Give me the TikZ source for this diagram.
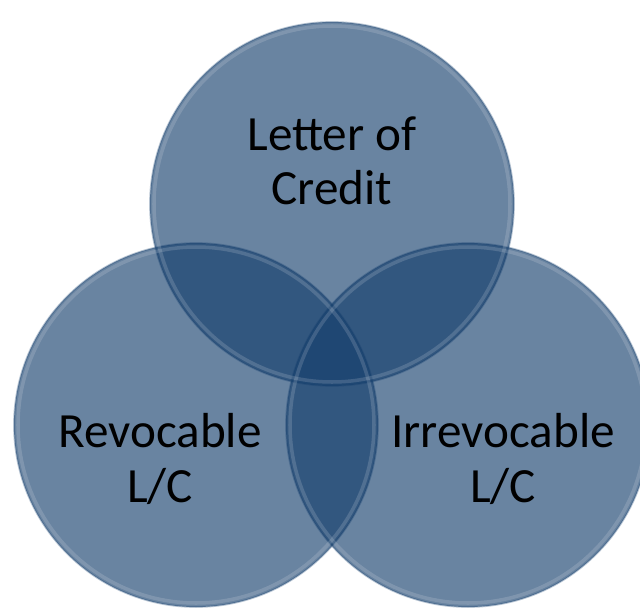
\documentclass[tikz,border=0pt]{standalone}
\usepackage{fontspec}
\setmainfont{Carlito}
\usepackage{tikz}
\usetikzlibrary{calc,positioning}

\definecolor{vennblue}{RGB}{20,62,108}
\tikzset{
  venn/.style={fill=vennblue,fill opacity=0.64,draw=vennblue,draw opacity=0.3,line width=1pt},
  rim/.style={draw=white,draw opacity=0.15,line width=2pt},
  vennlabel/.style={align=center,text=black,font=\fontsize{28}{31}\selectfont}
}

\begin{document}
\begin{tikzpicture}[x=0.02cm,y=-0.02cm]
			\useasboundingbox (0,0) rectangle (640,609);
			\clip (0,0) rectangle (640,609);
			\begin{scope}
				\draw[venn] (332,204) circle (182);
				\draw[venn] (196,425) circle (182);
				\draw[venn] (468,425) circle (182);
				% faint rims
				\draw[rim] (332,204) circle (178);
				\draw[rim] (196,425) circle (178);
				\draw[rim] (468,425) circle (178);
				\node[vennlabel] (credit) at (332,161) {Letter of\\Credit};
				\node[vennlabel] (revoc) at (160,459) {Revocable\\L/C};
				\node[vennlabel] (irrevoc) at (503,459) {Irrevocable\\L/C};
			\end{scope}
		\end{tikzpicture}
\end{document}
